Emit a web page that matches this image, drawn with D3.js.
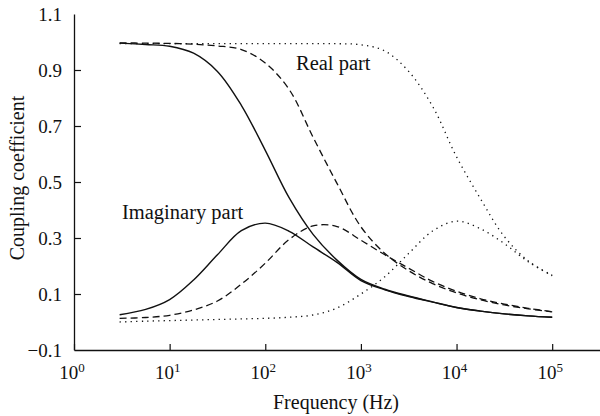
<!DOCTYPE html>
<html>
<head>
<meta charset="utf-8">
<script src="https://cdn.jsdelivr.net/npm/d3@7"></script>
<style>
  html, body { margin: 0; padding: 0; background: #fff; }
  svg { display: block; }
  svg text { font-family: "Liberation Serif", "DejaVu Serif", serif; fill: #111; }
</style>
</head>
<body>
<svg id="chart" width="600" height="416"></svg>
<script>
// ---- data ----
const freq = [3, 5.62, 10, 17.8, 31.6, 56.2, 100, 178, 316, 562, 1000, 1780, 3160, 5620, 10000, 17800, 31600, 56200, 100000];
const solidReal  = [0.996, 0.991, 0.985, 0.960, 0.895, 0.774, 0.613, 0.443, 0.313, 0.221, 0.152, 0.117, 0.093, 0.072, 0.052, 0.039, 0.029, 0.022, 0.017];
const solidImag  = [0.026, 0.045, 0.080, 0.150, 0.240, 0.326, 0.353, 0.324, 0.268, 0.213, 0.148, 0.115, 0.091, 0.071, 0.052, 0.039, 0.029, 0.022, 0.017];
const dashedReal = [0.997, 0.996, 0.995, 0.992, 0.986, 0.973, 0.925, 0.830, 0.660, 0.495, 0.340, 0.245, 0.183, 0.137, 0.104, 0.079, 0.061, 0.047, 0.036];
const dashedImag = [0.013, 0.016, 0.024, 0.043, 0.075, 0.135, 0.210, 0.295, 0.343, 0.341, 0.292, 0.240, 0.192, 0.145, 0.110, 0.083, 0.064, 0.049, 0.037];
const dottedReal = [0.994, 0.994, 0.994, 0.994, 0.994, 0.994, 0.994, 0.994, 0.994, 0.994, 0.990, 0.968, 0.895, 0.770, 0.590, 0.440, 0.305, 0.218, 0.167];
const dottedImag = [0.000, 0.003, 0.005, 0.007, 0.009, 0.011, 0.013, 0.017, 0.025, 0.050, 0.100, 0.162, 0.245, 0.325, 0.360, 0.333, 0.280, 0.215, 0.165];

const xTicks = [1, 10, 100, 1000, 10000, 100000];
const xExponents = ["0", "1", "2", "3", "4", "5"];
const yTicks = [-0.1, 0.1, 0.3, 0.5, 0.7, 0.9, 1.1];

const series = [
  {values: solidReal,  style: "solid"},
  {values: solidImag,  style: "solid"},
  {values: dashedReal, style: "dashed"},
  {values: dashedImag, style: "dashed"},
  {values: dottedReal, style: "dotted"},
  {values: dottedImag, style: "dotted"}
];

const FONT = "\"Liberation Serif\", \"DejaVu Serif\", serif";

// ---- layout ----
const svg = d3.select("#chart");
const x = d3.scaleLog().domain([1, Math.pow(10, 5.5)]).range([74, 600]);
const y = d3.scaleLinear().domain([-0.1, 1.1]).range([350, 14]);

// x axis
const gx = svg.append("g").attr("transform", "translate(0,350)")
  .call(d3.axisBottom(x).tickValues(xTicks).tickSizeInner(-6).tickSizeOuter(0).tickFormat(""));
gx.attr("font-family", FONT);
gx.select(".domain").attr("stroke", "#111").attr("stroke-width", 1.3);
gx.selectAll(".tick line").attr("stroke", "#111").attr("stroke-width", 1.2);

const xl = svg.append("g").attr("font-family", FONT);
xTicks.forEach((t, i) => {
  const txt = xl.append("text")
    .attr("x", x(t) - 2)
    .attr("y", 379)
    .attr("text-anchor", "middle")
    .attr("font-family", FONT)
    .attr("font-size", 19);
  txt.append("tspan").text("10");
  txt.append("tspan").attr("dy", -7).attr("font-size", 13).text(xExponents[i]);
});

// y axis
const gy = svg.append("g").attr("transform", "translate(74,0)")
  .call(d3.axisLeft(y).tickValues(yTicks).tickSizeInner(-7).tickSizeOuter(0)
    .tickPadding(12).tickFormat(d3.format(".1f")));
gy.attr("font-family", FONT);
gy.select(".domain").attr("stroke", "#111").attr("stroke-width", 1.3);
gy.selectAll(".tick line").attr("stroke", "#111").attr("stroke-width", 1.2)
  .attr("display", d => (d === 1.1 || d === -0.1) ? "none" : null);
gy.selectAll(".tick text").attr("font-size", 19)
  .attr("font-family", FONT).attr("fill", "#111");

// axis titles
svg.append("text")
  .attr("x", 336).attr("y", 409)
  .attr("text-anchor", "middle").attr("font-size", 20).attr("font-family", FONT)
  .text("Frequency (Hz)");
svg.append("text")
  .attr("transform", "translate(24,178) rotate(-90)")
  .attr("text-anchor", "middle").attr("font-size", 20).attr("font-family", FONT)
  .text("Coupling coefficient");

// curves
const line = d3.line()
  .x((d, i) => x(freq[i]))
  .y(d => y(d))
  .curve(d3.curveCatmullRom.alpha(0.5));

const dash = {solid: null, dashed: "7,4", dotted: "1.3,4.2"};
series.forEach(s => {
  svg.append("path")
    .datum(s.values)
    .attr("d", line)
    .attr("fill", "none")
    .attr("stroke", "#111")
    .attr("stroke-width", s.style === "solid" ? 1.4 : 1.3)
    .attr("stroke-dasharray", dash[s.style]);
});

// annotations
svg.append("text").attr("x", 296).attr("y", 70).attr("font-size", 20.5).attr("font-family", FONT).text("Real part");
svg.append("text").attr("x", 122).attr("y", 219).attr("font-size", 20.5).attr("font-family", FONT).text("Imaginary part");
</script>
</body>
</html>
